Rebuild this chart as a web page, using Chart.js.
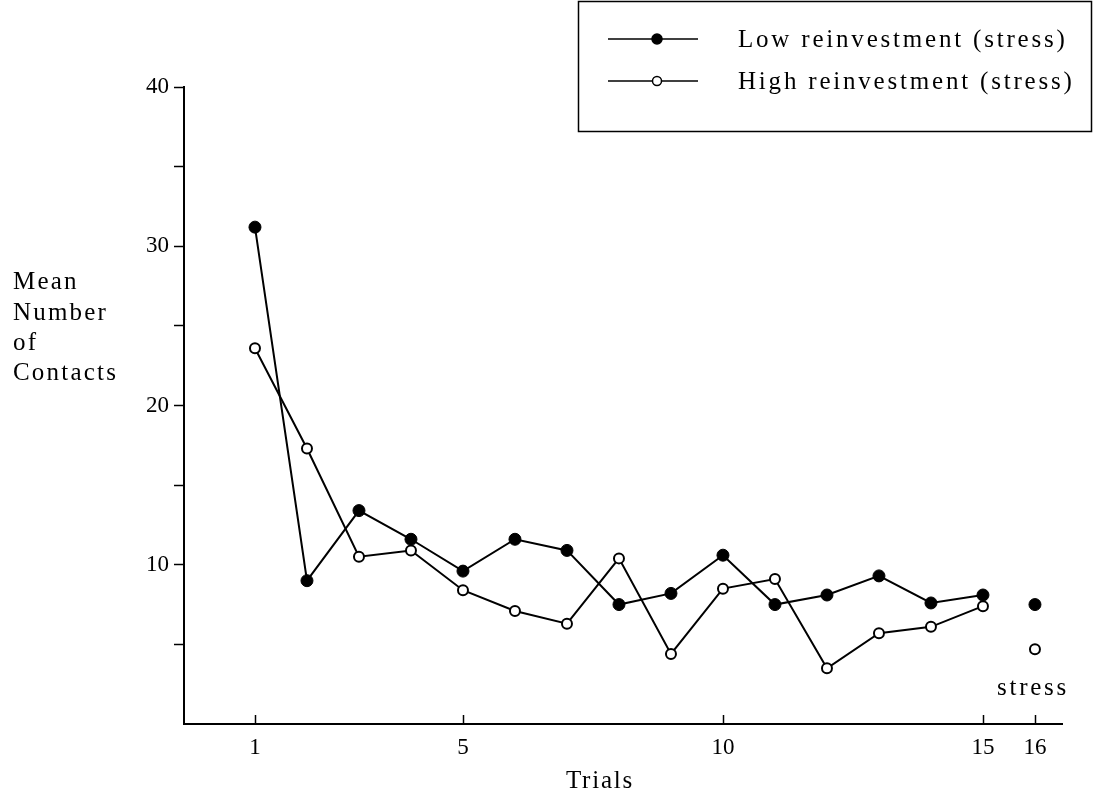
<!DOCTYPE html>
<html>
<head>
<meta charset="utf-8">
<script src="https://cdn.jsdelivr.net/npm/chart.js@4.4.1/dist/chart.umd.min.js"></script>
<style>
  html, body { margin: 0; padding: 0; background: #fff; }
  #wrap { width: 1094px; height: 796px; }
</style>
</head>
<body>
<div id="wrap"><canvas id="chart" width="1094" height="796"></canvas></div>
<script>
// values
const trials = [1, 2, 3, 4, 5, 6, 7, 8, 9, 10, 11, 12, 13, 14, 15];
const lowReinvestment = [31.2, 9.0, 13.4, 11.6, 9.6, 11.6, 10.9, 7.5, 8.2, 10.6, 7.5, 8.1, 9.3, 7.6, 8.1];
const highReinvestment = [23.6, 17.3, 10.5, 10.9, 8.4, 7.1, 6.3, 10.4, 4.4, 8.5, 9.1, 3.5, 5.7, 6.1, 7.4];
const stressTrial = 16;
const lowStress = 7.5;
const highStress = 4.7;
const xTickValues = [1, 5, 10, 15, 16];
const yTickLabels = [10, 20, 30, 40];
const seriesNames = ["Low reinvestment (stress)", "High reinvestment (stress)"];
const yTitleLines = ["Mean", "Number", "of", "Contacts"];
const xTitle = "Trials";
const stressLabel = "stress";

const FONT = '"Liberation Serif", "Times New Roman", serif';

function points(xs, ys) {
  return xs.map((x, i) => ({ x: x, y: ys[i] }));
}

const decor = {
  id: "decor",
  afterDraw(chart) {
    const ctx = chart.ctx;
    const xs = chart.scales.x;
    const bottom = chart.chartArea.bottom;
    ctx.save();
    ctx.strokeStyle = "#000";
    ctx.fillStyle = "#000";

    // small upward tick marks on the trials axis
    ctx.lineWidth = 1.5;
    xTickValues.forEach((v) => {
      const px = Math.round(xs.getPixelForValue(v)) + 0.5;
      ctx.beginPath();
      ctx.moveTo(px, bottom - 9);
      ctx.lineTo(px, bottom);
      ctx.stroke();
    });

    // legend box
    ctx.lineWidth = 1.5;
    ctx.strokeRect(578.5, 1.5, 513, 130);
    const rows = [39, 81];
    rows.forEach((ry, i) => {
      ctx.lineWidth = 1.5;
      ctx.beginPath();
      ctx.moveTo(608, ry);
      ctx.lineTo(698, ry);
      ctx.stroke();
      ctx.beginPath();
      ctx.arc(657, ry, i === 0 ? 5 : 4.5, 0, Math.PI * 2);
      ctx.fillStyle = i === 0 ? "#000" : "#fff";
      ctx.fill();
      ctx.stroke();
    });

    ctx.fillStyle = "#000";
    ctx.font = "25px " + FONT;
    ctx.letterSpacing = "2.8px";
    ctx.textAlign = "left";
    ctx.textBaseline = "alphabetic";
    ctx.fillText(seriesNames[0], 738, 47);
    ctx.fillText(seriesNames[1], 738, 89);

    // y title, stacked lines
    ctx.letterSpacing = "2.2px";
    const yBase = [289, 320, 350, 380];
    yTitleLines.forEach((t, i) => ctx.fillText(t, 13, yBase[i]));

    // x title and stress note
    ctx.textAlign = "center";
    ctx.letterSpacing = "1.8px";
    ctx.fillText(xTitle, 600, 788);
    ctx.letterSpacing = "2.7px";
    ctx.fillText(stressLabel, xs.getPixelForValue(stressTrial) - 2, 695);
    ctx.restore();
  }
};

new Chart(document.getElementById("chart"), {
  type: "line",
  data: {
    datasets: [
      {
        label: seriesNames[0],
        data: points(trials, lowReinvestment),
        borderColor: "#000",
        borderWidth: 2,
        pointRadius: 6,
        pointBackgroundColor: "#000",
        pointBorderColor: "#000",
        pointBorderWidth: 1,
        tension: 0
      },
      {
        label: seriesNames[1],
        data: points(trials, highReinvestment),
        borderColor: "#000",
        borderWidth: 2,
        pointRadius: 5,
        pointBackgroundColor: "#fff",
        pointBorderColor: "#000",
        pointBorderWidth: 2,
        tension: 0
      },
      {
        label: "stress low",
        data: [{ x: stressTrial, y: lowStress }],
        showLine: false,
        pointRadius: 6,
        pointBackgroundColor: "#000",
        pointBorderColor: "#000",
        pointBorderWidth: 1
      },
      {
        label: "stress high",
        data: [{ x: stressTrial, y: highStress }],
        showLine: false,
        pointRadius: 5,
        pointBackgroundColor: "#fff",
        pointBorderColor: "#000",
        pointBorderWidth: 2
      }
    ]
  },
  options: {
    responsive: false,
    animation: false,
    devicePixelRatio: 1,
    layout: { padding: { top: 87, right: 32, left: 0, bottom: 0 } },
    plugins: {
      legend: { display: false },
      tooltip: { enabled: false }
    },
    scales: {
      x: {
        type: "linear",
        min: -0.365,
        max: 16.52,
        afterBuildTicks: (s) => {
          s.ticks = xTickValues.map((v) => ({ value: v }));
        },
        afterFit: (s) => {
          s.height = 72;
        },
        ticks: {
          color: "#000",
          font: { family: FONT, size: 23 },
          padding: 10,
          maxRotation: 0,
          autoSkip: false
        },
        grid: { drawOnChartArea: false, drawTicks: false },
        border: { color: "#000", width: 2 }
      },
      y: {
        min: 0,
        max: 40,
        afterBuildTicks: (s) => {
          const t = [];
          for (let v = 5; v <= 40; v += 5) t.push({ value: v });
          s.ticks = t;
        },
        afterFit: (s) => {
          s.width = 184;
        },
        ticks: {
          color: "#000",
          font: { family: FONT, size: 23 },
          padding: 5,
          callback: (v) => (yTickLabels.includes(v) ? String(v) : "")
        },
        grid: {
          drawOnChartArea: false,
          drawTicks: true,
          tickLength: 10,
          tickColor: "#000",
          tickWidth: 1.5
        },
        border: { color: "#000", width: 2 }
      }
    }
  },
  plugins: [decor]
});
</script>
</body>
</html>
